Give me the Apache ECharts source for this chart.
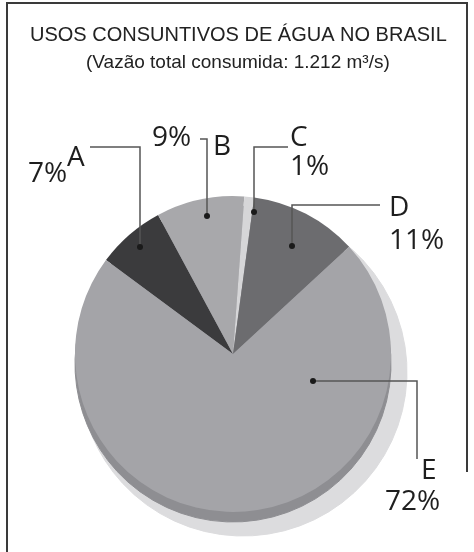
<!DOCTYPE html>
<html>
<head>
<meta charset="utf-8">
<script src="https://cdn.jsdelivr.net/npm/echarts@6.0.0/dist/echarts.min.js"></script>
<style>
  html, body { margin: 0; padding: 0; background: #fff; }
  #chartPie { width: 474px; height: 552px; }
  .edge { position: absolute; background: #3a3a3a; }
</style>
</head>
<body>
<div id="chartPie"></div>
<div class="edge" style="left:6px;top:2px;width:2px;height:550px;"></div>
<div class="edge" style="left:6px;top:2px;width:462px;height:2px;"></div>
<div class="edge" style="left:466px;top:2px;width:2px;height:470px;"></div>
<script>
  // dados do gráfico
  const categories = ['A', 'B', 'C', 'D', 'E'];
  const shares = [7, 9, 1, 11, 72];

  // cores das fatias
  const sliceColors = ['#3b3b3d', '#a8a8ab', '#d6d6d8', '#6c6c6f', '#a4a4a8'];

  // posições dos rótulos (layout, não dados)
  const namePos = [[67, 158], [213, 147], [290, 138], [389, 208], [421, 471]];
  const pctPos = [[28, 174], [152, 138], [290, 167], [389, 241], [385, 502]];
  const dotPos = [[140, 247], [207, 216], [254, 212], [292, 246], [313, 381]];
  const linePts = [
    [[140, 247], [140, 147], [90, 147]],
    [[207, 216], [207, 139], [200, 139]],
    [[254, 212], [254, 147], [288, 147]],
    [[292, 246], [292, 205], [380, 205]],
    [[313, 381], [417, 381], [417, 459]]
  ];

  const pieCenter = [233, 354];
  const pieRadius = 158;
  const startAngle = 143.5;

  const chart = echarts.init(document.getElementById('chartPie'));

  function flatPie(center, radius, color, z) {
    return {
      type: 'pie', center: center, radius: radius, startAngle: startAngle,
      silent: true, z: z,
      label: { show: false }, labelLine: { show: false },
      itemStyle: { color: color, borderColor: color, borderWidth: 1 },
      data: shares.map((v, i) => ({ name: categories[i], value: v }))
    };
  }

  // série transparente só para rótulos (fica por cima das fatias)
  function overlayPie(formatter, labelStyle, pos, align, withLines) {
    return {
      type: 'pie', center: pieCenter, radius: pieRadius, startAngle: startAngle,
      silent: true, z: 5, avoidLabelOverlap: false,
      itemStyle: { color: 'rgba(0,0,0,0)' },
      label: Object.assign({ show: true, position: 'outside', formatter: formatter }, labelStyle),
      labelLine: { show: withLines, lineStyle: { color: '#555', width: 1.5 } },
      labelLayout: function (p) {
        const i = p.dataIndex;
        const out = { x: pos[i][0], y: pos[i][1], align: align, verticalAlign: 'middle' };
        if (withLines) out.labelLinePoints = linePts[i];
        return out;
      },
      data: shares.map((v, i) => ({ name: categories[i], value: v }))
    };
  }

  const bigText = { fontFamily: 'Open Sans', fontSize: 28, color: '#1e1e1e' };

  chart.setOption({
    animation: false,
    backgroundColor: '#fff',
    title: [
      {
        text: 'USOS CONSUNTIVOS DE ÁGUA NO BRASIL', left: 25, top: 20,
        textStyle: { fontFamily: 'Liberation Sans', fontSize: 20, fontWeight: 'normal', color: '#222' }
      },
      {
        text: '(Vazão total consumida: 1.212 m³/s)', left: 81, top: 48,
        textStyle: { fontFamily: 'Liberation Sans', fontSize: 19, fontWeight: 'normal', color: '#222' }
      }
    ],
    series: [
      // sombra
      flatPie([243, 372], 164, '#dcdcde', 1),
      // borda inferior (efeito 3D)
      flatPie([233, 364], pieRadius, '#8e8e92', 2),
      {
        type: 'pie',
        center: pieCenter,
        radius: pieRadius,
        startAngle: startAngle,
        silent: true,
        z: 3,
        data: shares.map((v, i) => ({
          name: categories[i], value: v,
          itemStyle: { color: sliceColors[i] }
        })),
        label: { show: false },
        labelLine: { show: false }
      },
      overlayPie('{b}', bigText, namePos, 'left', true),
      overlayPie(function (p) { return shares[p.dataIndex] + '%'; }, bigText, pctPos, 'left', false),
      overlayPie(' ', {
        width: 6, height: 6, padding: 0, fontSize: 1,
        backgroundColor: '#1a1a1a', borderRadius: 3
      }, dotPos, 'center', false)
    ]
  });
</script>
</body>
</html>
